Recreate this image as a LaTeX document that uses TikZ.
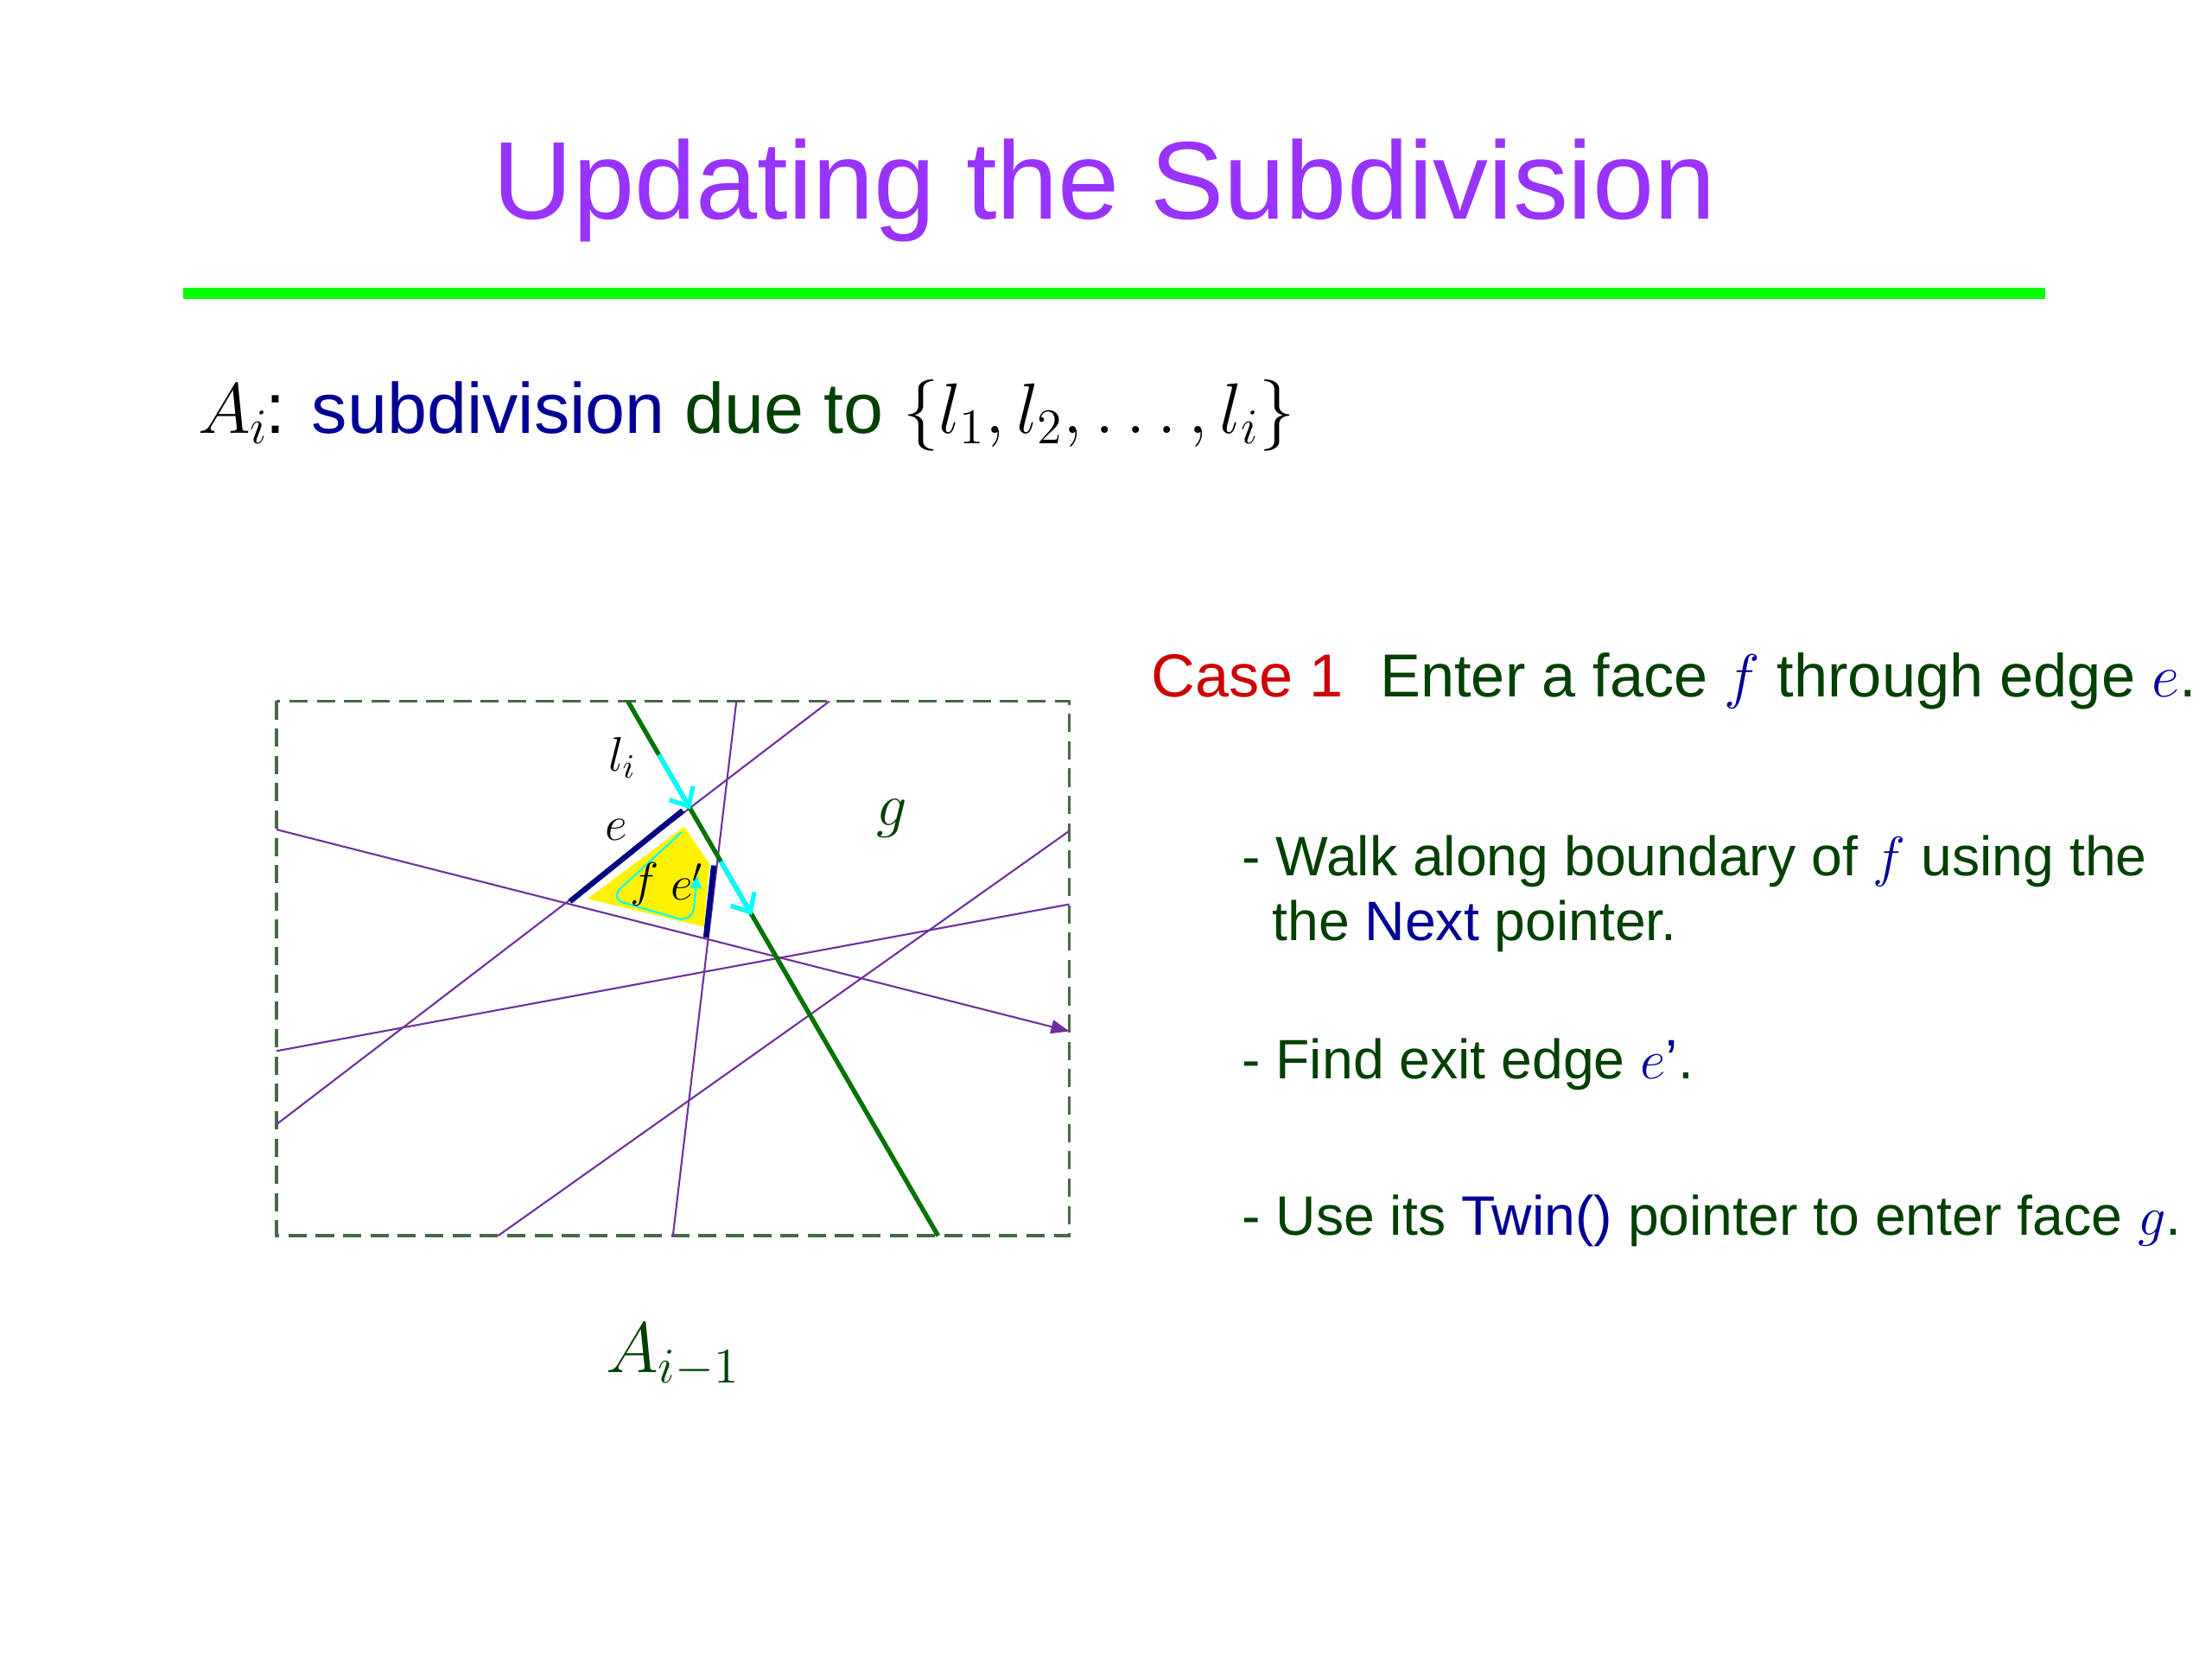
\RequirePackage{fix-cm}
\documentclass[tikz,border=0pt]{standalone}
\usepackage[no-math]{fontspec}
\setmainfont{Liberation Sans}
\usetikzlibrary{arrows.meta,calc}

\definecolor{titlepurple}{RGB}{153,51,255}
\definecolor{rulegreen}{RGB}{0,255,0}
\definecolor{textgreen}{RGB}{0,64,0}
\definecolor{textnavy}{RGB}{0,0,150}
\definecolor{casered}{RGB}{204,0,0}
\definecolor{framegreen}{RGB}{70,105,70}
\definecolor{linepurple}{RGB}{112,48,160}
\definecolor{ligreen}{RGB}{0,115,0}
\definecolor{edgenavy}{RGB}{0,0,130}
\definecolor{walkcyan}{RGB}{0,255,255}

\newcommand{\vr}[1]{\textcolor{textnavy}{$#1$}}

\tikzset{
  txt/.style={anchor=base west, inner sep=0pt, text=textgreen,
    font=\fontsize{18.3}{21.3}\selectfont},
  frame/.style={framegreen, line width=1.1pt, dash pattern=on 6pt off 3pt},
  arr/.style={linepurple, line width=0.6pt},
  edgeline/.style={edgenavy, line width=1.8pt},
  walk/.style={walkcyan, line width=1.5pt, -{Straight Barb[length=5pt,width=9pt]}},
  lbl/.style={inner sep=0pt, font=\fontsize{16}{16}\selectfont}
}

\begin{document}
\begin{tikzpicture}[x=0.016327cm, y=-0.016327cm]
  \useasboundingbox (0,0) rectangle (1568,1176);
  % title and rule
  \node[anchor=base, inner sep=0pt, text=titlepurple,
    font=\fontsize{36.4}{40}\selectfont] (title) at (783,155) {Updating the Subdivision};
  \draw[rulegreen, line width=3.8pt] (130,208) -- (1450,208);
  \node[txt, text=black, font=\fontsize{23.5}{28}\selectfont] (defline) at (140,307)
    {$A_i$\kern-1pt: \textcolor{textnavy}{subdivision} \textcolor{textgreen}{due to} $\{l_1, l_2, \ldots, l_i\}$};

  % the arrangement A_{i-1}
  \coordinate (nw) at (196,497);
  \coordinate (se) at (758,876);
  \coordinate (li-top) at (445,497);
  \coordinate (li-bot) at (665,876);
  \coordinate (p1a) at (196,588); \coordinate (p1b) at (758,731);
  \coordinate (p2a) at (196,797); \coordinate (p2b) at (588,497);
  \coordinate (p3a) at (522,497); \coordinate (p3b) at (477,876);
  \coordinate (p4a) at (196,745); \coordinate (p4b) at (758,641);
  \coordinate (p5a) at (353,876); \coordinate (p5b) at (758,589);

  \fill[yellow] (485,586) -- (416.5,637) -- (499,657) -- (503,612.5) -- cycle;
  \draw[frame] (nw) rectangle (se);
  \draw[arr, -{Triangle[length=6pt,width=4.5pt]}] (p1a) -- (p1b);
  \draw[arr] (p2a) -- (p2b);
  \draw[arr] (p3a) -- (p3b);
  \draw[arr] (p4a) -- (p4b);
  \draw[arr] (p5a) -- (p5b);

  % edges e and e'
  \draw[edgeline] (404,639) -- (484,574.5);
  \draw[edgeline] (506,613.5) -- (500.4,664.5);

  % the new line l_i
  \draw[ligreen, line width=1.5pt] (li-top) -- (li-bot);
  \draw[walk] ($(li-top)!0.1!(li-bot)$) -- ($(li-top)!0.202!(li-bot)$);
  \draw[walk] ($(li-top)!0.3!(li-bot)$) -- ($(li-top)!0.4!(li-bot)$);
  \draw[walkcyan, line width=0.6pt, rounded corners=5pt, -{Triangle[length=4pt,width=4pt]}]
    (483,590) -- (432,637) -- (491,654) -- (494,621);

  \node[lbl] (lbl-li) at (441,537) {$l_i$};
  \node[lbl] (lbl-e) at (437,588) {$e$};
  \node[lbl, font=\fontsize{20}{20}\selectfont, text=textgreen] (lbl-g) at (632,580) {$g$};
  \node[lbl] (lbl-f) at (457,627) {$f$};
  \node[lbl] (lbl-ep) at (487,625) {$e'$};
  \node[anchor=base west, inner sep=0pt, text=textgreen,
    font=\fontsize{23.5}{26}\selectfont] (caption) at (429,972.7) {$A_{i-1}$};

  % case 1 text
  \node[txt, text=casered, font=\fontsize{20}{24}\selectfont] (case) at (815.6,494) {Case 1};
  \node[txt, font=\fontsize{20}{24}\selectfont] (enter) at (978,494)
    {Enter a face \vr{f} through edge \vr{e}.};
  \node[txt] (walk1) at (880,620.6) {- Walk along boundary of \vr{f} using the};
  \node[txt] (walk2) at (901.4,666.6) {the \textcolor{textnavy}{Next} pointer.};
  \node[txt] (exit) at (880,764.6) {- Find exit edge \vr{e}\textcolor{textnavy}{’}.};
  \node[txt] (twin) at (880,875.6) {- Use its \textcolor{textnavy}{Twin()} pointer to enter face \vr{g}.};
\end{tikzpicture}
\end{document}
